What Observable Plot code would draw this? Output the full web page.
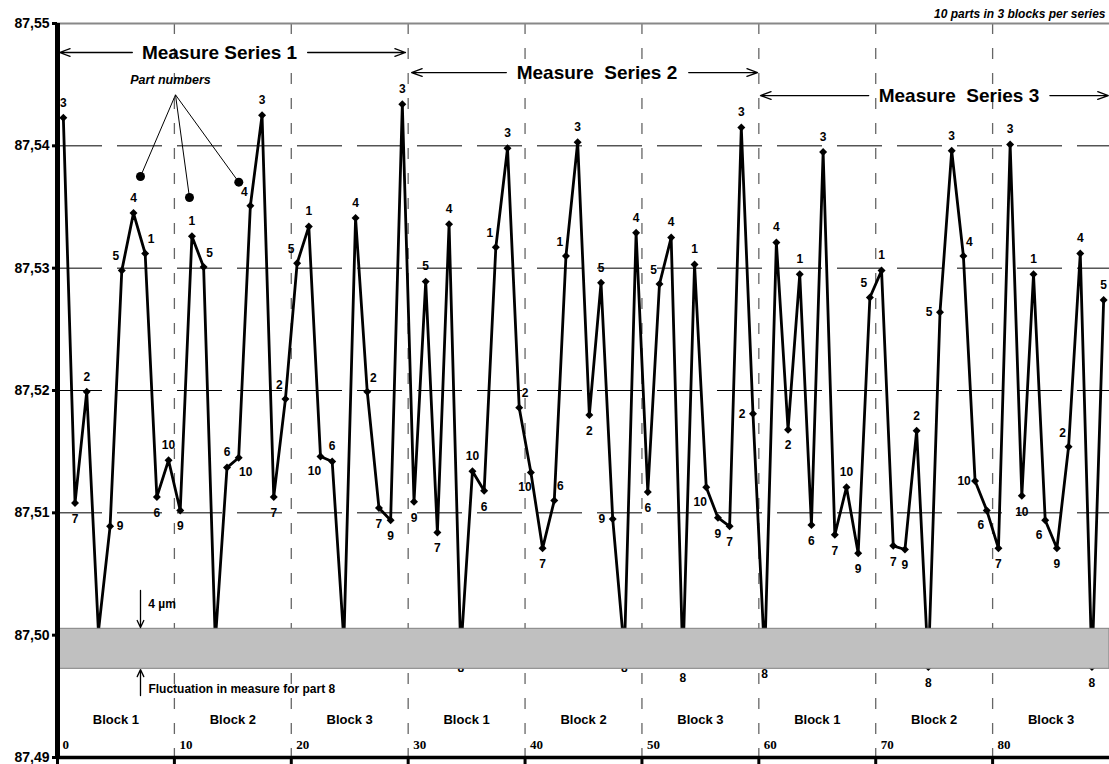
<!DOCTYPE html>
<html><head><meta charset="utf-8">
<script src="https://cdn.jsdelivr.net/npm/d3@7"></script>
<script src="https://cdn.jsdelivr.net/npm/@observablehq/plot@0.6"></script>
<style>body{margin:0;background:#fff}</style>
</head><body><div id="chart"></div>
<script>
// Part numbers in measuring order (3 blocks of 10 parts per series)
const series1Parts = [3,7,2,8,9,5,4,1,6,10, 9,1,5,8,6,10,4,3,7,2, 5,1,10,6,8,4,2,7,9,3];
const series2Parts = [9,5,7,4,8,10,6,1,3,2, 10,7,6,1,3,2,5,9,8,4, 6,5,4,8,1,10,9,7,3,2];
const series3Parts = [8,4,2,1,6,3,7,10,9,5, 1,7,9,2,8,5,3,4,10,6, 7,3,10,1,6,9,2,4,8,5];

// Measured values
const series1Values = [87.5423,87.5108,87.5199,87.5003,87.5089,87.5298,87.5345,87.5312,87.5113,87.5143,
                       87.5102,87.5326,87.5301,87.4995,87.5137,87.5145,87.5351,87.5425,87.5113,87.5193,
                       87.5304,87.5334,87.5146,87.5142,87.4995,87.5341,87.5199,87.5104,87.5094,87.5434];
const series2Values = [87.5109,87.5289,87.5084,87.5336,87.4986,87.5134,87.5118,87.5317,87.5398,87.5186,
                       87.5133,87.5071,87.5110,87.5310,87.5403,87.5180,87.5288,87.5095,87.4986,87.5329,
                       87.5117,87.5287,87.5325,87.4978,87.5303,87.5121,87.5096,87.5089,87.5415,87.5181];
const series3Values = [87.4981,87.5321,87.5168,87.5295,87.5090,87.5395,87.5082,87.5121,87.5067,87.5276,
                       87.5298,87.5073,87.5070,87.5167,87.4974,87.5264,87.5396,87.5310,87.5126,87.5102,
                       87.5071,87.5401,87.5114,87.5295,87.5094,87.5071,87.5154,87.5312,87.4974,87.5274];

// Placement of each part-number label relative to its point
const series1LabelPos = ["n","s","n","s","e","nw","n","ne","s","n", "s","n","ne","s","n","se","nw","n","s","nw", "nw","n","sw","n","s","n","ne","s","s","n"];
const series2LabelPos = ["s","n","s","n","s","n","s","nw","n","ne", "sw","s","ne","nw","n","s","n","w","s","n", "s","nw","n","s","n","sw","s","s","n","w"];
const series3LabelPos = ["s","n","s","n","s","n","s","n","s","nw", "n","s","s","n","s","w","n","ne","w","sw", "s","n","s","n","sw","s","nw","n","s","n"];

const yTicks = [87.49, 87.50, 87.51, 87.52, 87.53, 87.54, 87.55];
const yGrid = [87.51, 87.52, 87.53, 87.54];
const xTicks = [0, 10, 20, 30, 40, 50, 60, 70, 80];
const blockBounds = [10, 20, 30, 40, 50, 60, 70, 80];
const blockLabels = ["Block 1","Block 2","Block 3","Block 1","Block 2","Block 3","Block 1","Block 2","Block 3"];
const seriesTitles = ["Measure Series 1", "Measure  Series 2", "Measure  Series 3"];
const band = {y1: 87.49725, y2: 87.50052}; // fluctuation for part 8

const rows = [];
[[series1Parts, series1Values, series1LabelPos],
 [series2Parts, series2Values, series2LabelPos],
 [series3Parts, series3Values, series3LabelPos]].forEach(([parts, vals, pos], s) => {
  parts.forEach((p, j) => rows.push({x: s * 30 + j + 0.5, part: String(p), value: vals[j], pos: pos[j]}));
});

const F = "Arial, 'Liberation Sans', sans-serif";
const offsets = {n:[0,-15], s:[0,16], e:[10,0], w:[-11,0], ne:[6,-14], nw:[-6,-14], se:[7,14], sw:[-6,15]};

// Annotation geometry in data units
const titleArrows = [
  {x1: 6.4, x2: 0.17, y: 87.54763}, {x1: 21.4, x2: 29.77, y: 87.54763},
  {x1: 38.4, x2: 30.29, y: 87.54599}, {x1: 54.0, x2: 59.89, y: 87.54599},
  {x1: 69.4, x2: 60.14, y: 87.54411}, {x1: 84.9, x2: 89.9, y: 87.54411}
];
const titlePos = [{x: 13.86, y: 87.54763}, {x: 46.15, y: 87.54599}, {x: 77.12, y: 87.54411}];
const pointerApex = {x: 10.095, y: 87.54417};
const pointerDots = [{x: 7.10, y: 87.53749}, {x: 11.29, y: 87.53578}, {x: 15.51, y: 87.53703}];

const chart = Plot.plot({
  width: 1109, height: 764,
  marginLeft: 57, marginRight: 0, marginTop: 23, marginBottom: 7,
  style: {fontFamily: F, background: "#fff", overflow: "visible", color: "#000"},
  x: {domain: [0, 90], label: null},
  y: {domain: [87.49, 87.55], label: null},
  marks: [
    Plot.ruleY(yGrid, {stroke: "#000", strokeWidth: 1, strokeDasharray: "45,15"}),
    Plot.ruleX(blockBounds, {stroke: "#666", strokeWidth: 1.3, strokeDasharray: "11,14"}),
    Plot.ruleY([87.55], {stroke: "#888", strokeWidth: 2}),
    Plot.line(rows, {x: "x", y: "value", stroke: "#000", strokeWidth: 2.8}),
    Plot.dot(rows, {x: "x", y: "value", symbol: "diamond2", r: 3.6, fill: "#000"}),
    ...Object.entries(offsets).map(([k, [dx, dy]]) =>
      Plot.text(rows.filter(r => r.pos === k), {x: "x", y: "value", text: "part", dx, dy, fontSize: 12, fontWeight: "bold"})),
    Plot.rect([band], {x1: 0, x2: 90, y1: "y1", y2: "y2", fill: "#c0c0c0", stroke: "#808080", strokeWidth: 1}),
    // axes
    Plot.ruleX([0], {y1: 87.49, y2: 87.55, strokeWidth: 5}),
    Plot.ruleY([87.49], {strokeWidth: 3.5}),
    Plot.axisY({ticks: yTicks, tickFormat: d => d.toFixed(2).replace(".", ","), tickSize: 5, tickPadding: 3, strokeWidth: 3, fontSize: 14, fontWeight: "bold", label: null}),
    Plot.axisX({ticks: xTicks, tickFormat: () => "", tickSize: 7, strokeWidth: 3, label: null}),
    Plot.text(xTicks, {x: d => d, y: () => 87.49, dx: 5, dy: -13, text: d => String(d), textAnchor: "start", fontFamily: "'Times New Roman', 'Liberation Serif', serif", fontWeight: "bold", fontSize: 13}),
    Plot.text(blockLabels, {x: (d, i) => i * 10 + 5, y: () => 87.49308, text: d => d, fontSize: 13, fontWeight: "bold"}),
    // series titles with arrows
    Plot.arrow(titleArrows, {x1: "x1", x2: "x2", y1: "y", y2: "y", stroke: "#000", strokeWidth: 1.3, headLength: 13, headAngle: 40}),
    Plot.text(seriesTitles, {x: (d, i) => titlePos[i].x, y: (d, i) => titlePos[i].y, text: d => d, fontSize: 19, fontWeight: "bold", lineAnchor: "middle"}),
    Plot.text(["10 parts in 3 blocks per series"], {x: () => 90, y: () => 87.55, dx: -4, dy: -9, text: d => d, textAnchor: "end", fontSize: 12, fontWeight: "bold", fontStyle: "italic"}),
    // part number pointer
    Plot.text(["Part numbers"], {x: () => pointerApex.x - 0.43, y: () => pointerApex.y, dy: -15, text: d => d, fontSize: 12.5, fontWeight: "bold", fontStyle: "italic"}),
    Plot.link(pointerDots, {x1: () => pointerApex.x, y1: () => pointerApex.y, x2: "x", y2: "y", stroke: "#000", strokeWidth: 1}),
    Plot.dot(pointerDots, {x: "x", y: "y", r: 4.5, fill: "#000"}),
    // fluctuation annotation
    Plot.arrow([{x: 7.10, y1: 87.50365, y2: 87.50062}, {x: 7.10, y1: 87.49507, y2: 87.49719}], {x1: "x", x2: "x", y1: "y1", y2: "y2", stroke: "#000", strokeWidth: 1.3, headLength: 9, headAngle: 50}),
    Plot.text(["4 µm"], {x: () => 7.76, y: () => 87.50256, text: d => d, textAnchor: "start", fontSize: 12, fontWeight: "bold"}),
    Plot.text(["Fluctuation in measure for part 8"], {x: () => 7.78, y: () => 87.49561, text: d => d, textAnchor: "start", fontSize: 12, fontWeight: "bold"})
  ]
});
document.getElementById("chart").appendChild(chart);
</script>
</body></html>
